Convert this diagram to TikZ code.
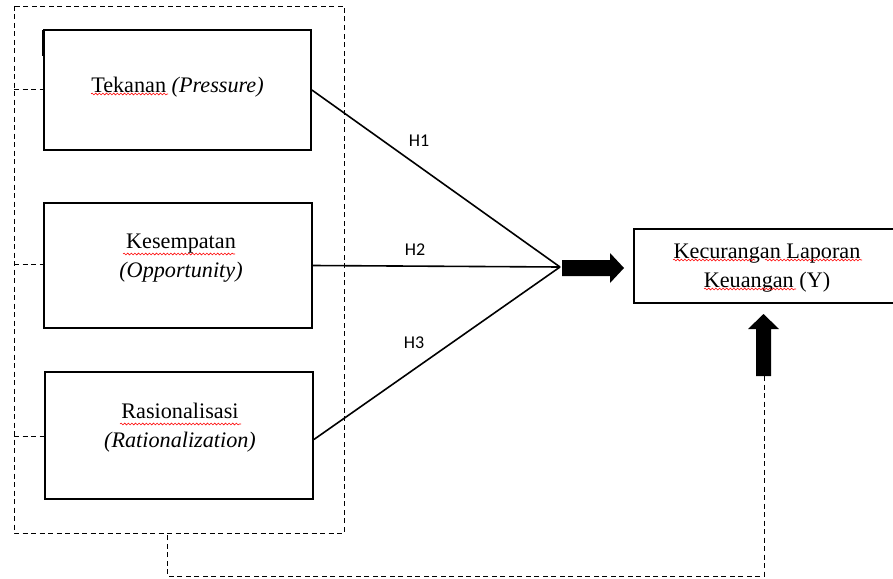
\documentclass[tikz,border=0pt]{standalone}
\usepackage{fontspec}
\setmainfont{Liberation Serif}
\newfontfamily\hfont{Carlito}
\usetikzlibrary{decorations.pathmorphing}
\begin{document}
\begin{tikzpicture}[x=1pt,y=-1pt,
  varbox/.style={draw,line width=1.8pt,minimum width=#1,inner sep=0pt},
  boxtext/.style={font=\fontsize{22.2}{29.5}\selectfont,align=center,inner sep=0pt},
  hlabel/.style={font=\hfont\fontsize{18}{20}\selectfont,inner sep=0pt},
  conn/.style={line width=1.6pt},
  dashline/.style={line width=0.9pt,dash pattern=on 5pt off 3.5pt},
  squig/.style={red,line width=0.55pt,decorate,decoration={snake,amplitude=0.9pt,segment length=3.6pt}},
  bigarrow/.style={fill=black}
]
\useasboundingbox (0,0) rectangle (893,578);

% outer dashed frame
\draw[dashline] (14,6) rectangle (344,533);

% boxes
\node[varbox=267pt,minimum height=120pt] (b1) at (177.5,90) {};
\node[varbox=268pt,minimum height=125pt] (b2) at (178,265.5) {};
\node[varbox=268pt,minimum height=127pt] (b3) at (179,435.5) {};
\node[varbox=262pt,minimum height=74pt] (y) at (765,266) {};
\draw[line width=2.6pt] (43,30) -- (43,56);

% texts
\node[boxtext] (t1) at (177.5,87) {Tekanan \textit{(Pressure)}};
\node[boxtext] (t2) at (181,258) {Kesempatan\\\textit{(Opportunity)}};
\node[boxtext] (t3) at (180,427.5) {Rasionalisasi\\\textit{(Rationalization)}};
\node[boxtext] (ty) at (767,268) {Kecurangan Laporan\\Keuangan (Y)};

% spell-check squiggles
\draw[squig] (91,94) -- (168,94);
\draw[squig] (123,254) -- (235,254);
\draw[squig] (120,424) -- (241,424);
\draw[squig] (673,260) -- (755,260);
\draw[squig] (765,260) -- (862,260);
\draw[squig] (704,289) -- (796,289);

% left dashed stubs
\coordinate (l1) at (14,89);
\coordinate (l2) at (14,264);
\coordinate (l3) at (14,436);
\draw[dashline] (l1) -- (b1.west |- l1);
\draw[dashline] (l2) -- (b2.west |- l2);
\draw[dashline] (l3) -- (b3.west |- l3);

% convergence
\coordinate (c) at (560,267);
\draw[conn] (b1.east) -- (c);
\draw[conn] (b2.east) -- (c);
\draw[conn] ([yshift=-4pt]b3.east) -- (c);

\node[hlabel] (h1) at (419,141) {H1};
\node[hlabel] (h2) at (415,250) {H2};
\node[hlabel] (h3) at (414,343) {H3};

% thick arrows
\fill[bigarrow] (562,260) -- (610,260) -- (610,253) -- (624,268) -- (610,283) -- (610,276) -- (562,276) -- cycle;
\fill[bigarrow] (756,376) -- (756,329) -- (748,329) -- (763.5,314) -- (779,329) -- (771,329) -- (771,376) -- cycle;

% dashed feedback
\coordinate (d0) at (764,376);
\coordinate (d1) at (764,576);
\coordinate (d2) at (167,576);
\coordinate (d3) at (167,533);
\draw[dashline] (d0) -- (d1) -- (d2) -- (d3);
\end{tikzpicture}
\end{document}
